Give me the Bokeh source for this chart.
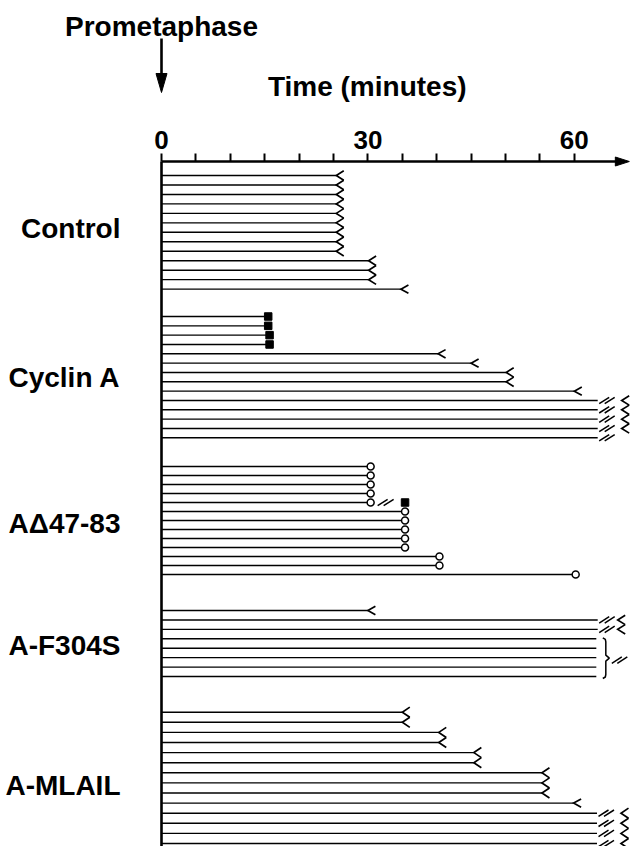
from bokeh.plotting import figure
from bokeh.models import Range1d, LinearAxis, FixedTicker
from bokeh.core.properties import value
from bokeh.embed import file_html
from bokeh.resources import INLINE

# ---------------- data ----------------
group_names = ["Control", "Cyclin A", "A\u039447-83", "A-F304S", "A-MLAIL"]

# time (min) at which each cell's line ends, and the mark drawn there
control_end = [25.4, 25.4, 25.4, 25.4, 25.4, 25.4, 25.4, 25.4, 25.4, 30.1, 30.1, 30.1, 34.8]
control_mark = ["<", "<", "<", "<", "<", "<", "<", "<", "<", "<", "<", "<", "<"]

cyclin_end = [15.0, 15.0, 15.2, 15.2, 40.2, 45.0, 50.1, 50.1, 60.0, 63.4, 63.4, 63.4, 63.4, 63.4]
cyclin_mark = ["sq", "sq", "sq", "sq", "<", "<", "<", "<", "<", "//<", "//<", "//<", "//<", "//"]

adelta_end = [30.4, 30.4, 30.4, 30.4, 30.4, 35.4, 35.4, 35.4, 35.4, 35.4, 40.4, 40.4, 60.2]
adelta_mark = ["o", "o", "o", "o", "o//sq", "o", "o", "o", "o", "o", "o", "o", "o"]
adelta_then = [None, None, None, None, 35.4, None, None, None, None, None, None, None, None]

f304s_end = [30.0, 63.4, 63.4, 63.2, 63.2, 63.2, 63.2, 63.2]
f304s_mark = ["<", "//<", "//<", "}", "}", "}", "}", "}"]

mlail_end = [35.0, 35.0, 40.3, 40.3, 45.4, 45.4, 55.3, 55.3, 55.3, 59.9, 63.3, 63.3, 63.3, 63.3]
mlail_mark = ["<", "<", "<", "<", "<", "<", "<", "<", "<", "<", "//<", "//<", "//<", "//<"]

x_ticks = [0, 5, 10, 15, 20, 25, 30, 35, 40, 45, 50, 55, 60]
x_tick_labels = {0: "0", 30: "30", 60: "60"}

title_text = "Prometaphase"
axis_title = "Time (minutes)"

group_ends = [control_end, cyclin_end, adelta_end, f304s_end, mlail_end]
group_marks = [control_mark, cyclin_mark, adelta_mark, f304s_mark, mlail_mark]
group_then = [None, None, adelta_then, None, None]

# ---------------- layout ----------------
W, H = 632, 846
X0 = 161          # pixel column of t = 0
PXM = 6.88        # pixels per minute
AXIS_Y = 161      # pixel row of the time axis
AXIS_BOTTOM = 846
X_TIP = 68.0      # arrow tip of time axis (min)


def px(d):
    return d / PXM


GROUP_TOP = [175, 316, 466, 610, 711.7]
GROUP_STEP = [9.47, 9.33, 9.0, 9.43, 10.1]
LABEL_NUDGE = [-4, 0, 3, 2, 8]
BREAK_ZIG = [24, 24, 24, 20, 24]

FONT = "Liberation Sans"

seg_x1, seg_y = [], []
chev_xs, chev_ys = [], []
st_x0, st_y0, st_x1, st_y1 = [], [], [], []
sq_x, sq_y = [], []
ci_x, ci_y = [], []
br_xs, br_ys = [], []
label_ticks, label_over = [], {}


def add_chev(xv, y, h):
    w = px(7.5)
    chev_xs.append([xv + w, xv, xv + w])
    chev_ys.append([y - h, y, y + h])


def add_strokes(centres, y):
    for c in centres:
        st_x0.append(c - px(5)); st_y0.append(y + 3.2)
        st_x1.append(c + px(5)); st_y1.append(y - 3.2)


for gi in range(len(group_names)):
    ends, marks, then = group_ends[gi], group_marks[gi], group_then[gi]
    step = GROUP_STEP[gi]
    n = len(ends)
    ys = [GROUP_TOP[gi] + i * step for i in range(n)]

    def in_run(i):
        return any(0 <= j < n and marks[j] == marks[i] and ends[j] == ends[i] for j in (i - 1, i + 1))

    brace_rows = []
    for i in range(n):
        e, m, y = ends[i], marks[i], ys[i]
        line_end = e - px(3.4) if m.startswith("o") else e
        seg_x1.append(line_end); seg_y.append(y)
        if m == "<":
            add_chev(e, y, step / 2 if in_run(i) else 4.2)
        elif m == "sq":
            sq_x.append(e + px(3.5)); sq_y.append(y)
        elif m == "o":
            ci_x.append(e); ci_y.append(y)
        elif m == "o//sq":
            ci_x.append(e); ci_y.append(y)
            add_strokes([e + px(12), e + px(18)], y)
            sq_x.append(then[i]); sq_y.append(y)
        elif m in ("//", "//<"):
            add_strokes([e + px(6.5), e + px(12)], y)
            if m == "//<":
                add_chev(e + px(BREAK_ZIG[gi]), y, step / 2 if in_run(i) else 4.2)
        elif m == "}":
            brace_rows.append(i)
    if brace_rows:
        yt = ys[brace_rows[0]] - 1
        yb = ys[brace_rows[-1]] + 2
        ym = (yt + yb) / 2
        x0 = max(ends[i] for i in brace_rows) + px(6.5)
        offs = [0, 2.5, 3, 3, 6.5, 3, 3, 2.5, 0]
        yy = [yt, yt + 1.5, yt + 4, ym - 3, ym, ym + 3, yb - 4, yb - 1.5, yb]
        br_xs.append([x0 + px(o) for o in offs]); br_ys.append(yy)
        add_strokes([x0 + px(14), x0 + px(19.5)], ym + 2)
    c = round((ys[0] + ys[-1]) / 2 + LABEL_NUDGE[gi])
    label_ticks.append(c)
    label_over[c] = group_names[gi]

# ---------------- figure ----------------
p = figure(width=W, height=H, x_range=Range1d(-X0 / PXM, (W - X0) / PXM), y_range=Range1d(H, 0),
           output_backend="svg", toolbar_location=None,
           x_axis_location=None, y_axis_location=None,
           min_border=0, min_border_left=0, min_border_top=0, min_border_right=0, min_border_bottom=0,
           outline_line_color=None)
p.xgrid.grid_line_color = None
p.ygrid.grid_line_color = None

xax = LinearAxis(ticker=FixedTicker(ticks=x_ticks), fixed_location=AXIS_Y,
                 major_label_overrides={t: x_tick_labels.get(t, "") for t in x_ticks},
                 axis_line_color=None,
                 major_tick_line_width=2, major_tick_line_color="black",
                 major_tick_out=8, major_tick_in=0,
                 minor_tick_line_color=None,
                 major_label_text_font=FONT, major_label_text_font_size="26px",
                 major_label_text_font_style="bold", major_label_text_color="black",
                 major_label_standoff=5)
p.add_layout(xax, "above")

yax = LinearAxis(ticker=FixedTicker(ticks=label_ticks), fixed_location=0,
                 major_label_overrides=label_over,
                 axis_line_color=None,
                 major_tick_line_color=None, minor_tick_line_color=None,
                 major_tick_out=0, major_tick_in=0,
                 major_label_text_font=FONT, major_label_text_font_size="28px",
                 major_label_text_font_style="bold", major_label_text_color="black",
                 major_label_standoff=41)
p.add_layout(yax, "left")

# axes lines
p.segment(x0=[0, 0], y0=[AXIS_Y, AXIS_Y], x1=[X_TIP - px(10), 0], y1=[AXIS_Y, AXIS_BOTTOM],
          line_color="black", line_width=2.6)
p.patch(x=[X_TIP, X_TIP - px(14), X_TIP - px(14)], y=[AXIS_Y, AXIS_Y - 4.5, AXIS_Y + 4.5],
        fill_color="black", line_color="black", line_width=1)

# prometaphase arrow
p.segment(x0=[0], y0=[38], x1=[0], y1=[80], line_color="black", line_width=2.6)
p.patch(x=[0, px(-5.5), px(5.5)], y=[92, 73, 73], fill_color="black", line_color="black", line_width=1)

p.text(x=[0], y=[26], text=[title_text], text_align="center", text_baseline="alphabetic",
       text_font=value(FONT), text_font_size="28px", text_font_style="bold", text_color="black")
p.text(x=[29.9], y=[86], text=[axis_title], text_align="center", text_baseline="alphabetic",
       text_font=value(FONT), text_font_size="28px", text_font_style="bold", text_color="black")

# cell traces
p.segment(x0=0, y0=seg_y, x1=seg_x1, y1=seg_y, line_color="black", line_width=1.4)
p.multi_line(xs=chev_xs, ys=chev_ys, line_color="black", line_width=1.7, line_join="miter")
p.segment(x0=st_x0, y0=st_y0, x1=st_x1, y1=st_y1, line_color="black", line_width=1.5)
p.multi_line(xs=br_xs, ys=br_ys, line_color="black", line_width=1.5)
p.scatter(x=sq_x, y=sq_y, marker="square", size=7.5, fill_color="black", line_color="black")
p.scatter(x=ci_x, y=ci_y, marker="circle", size=7, fill_color="white", line_color="black", line_width=1.5)

open("out.html", "w").write(file_html(p, INLINE))
